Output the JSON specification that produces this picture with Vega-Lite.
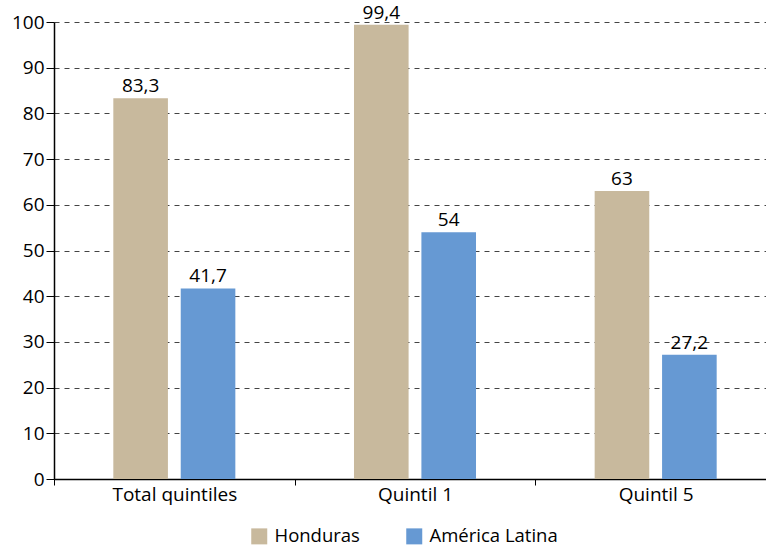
{
  "$schema": "https://vega.github.io/schema/vega-lite/v6.json",
  "width": 722,
  "height": 457,
  "autosize": {"type": "none"},
  "padding": {"left": 54, "top": 22, "right": 0, "bottom": 71},
  "config": {
    "font": "Open Sans",
    "view": {"stroke": null},
    "locale": {"number": {"decimal": ",", "thousands": ".", "grouping": [3], "currency": ["", ""]}}
  },
  "data": {
    "values": [
      {"grupo": "Total quintiles", "pais": "Honduras", "valor": 83.3},
      {"grupo": "Total quintiles", "pais": "América Latina", "valor": 41.7},
      {"grupo": "Quintil 1", "pais": "Honduras", "valor": 99.4},
      {"grupo": "Quintil 1", "pais": "América Latina", "valor": 54},
      {"grupo": "Quintil 5", "pais": "Honduras", "valor": 63},
      {"grupo": "Quintil 5", "pais": "América Latina", "valor": 27.2}
    ]
  },
  "encoding": {
    "x": {
      "field": "grupo", "type": "nominal", "sort": ["Total quintiles", "Quintil 1", "Quintil 5"],
      "scale": {"paddingInner": 0, "paddingOuter": 0},
      "axis": {
        "title": null, "labelAngle": 0, "labelFontSize": 19, "labelColor": "#000", "labelPadding": 0,
        "domainColor": "#000", "domainWidth": 1.5, "tickColor": "#000", "tickBand": "extent", "tickSize": 6, "grid": false
      }
    },
    "xOffset": {
      "field": "pais", "type": "nominal", "sort": ["Honduras", "América Latina"],
      "scale": {"paddingInner": 0.19, "paddingOuter": 0.88}
    },
    "y": {
      "field": "valor", "type": "quantitative",
      "scale": {"domain": [0, 100]},
      "axis": {
        "title": null, "values": [0, 10, 20, 30, 40, 50, 60, 70, 80, 90, 100],
        "labelFontSize": 19, "labelColor": "#000", "labelPadding": 2,
        "domainColor": "#000", "domainWidth": 1.5, "tickColor": "#000", "tickSize": 8,
        "grid": true, "gridColor": "#444", "gridDash": [5, 5], "gridWidth": 1
      }
    }
  },
  "layer": [
    {
      "mark": {"type": "bar"},
      "encoding": {
        "color": {
          "field": "pais", "type": "nominal",
          "scale": {"domain": ["Honduras", "América Latina"], "range": ["#C8B99D", "#6699D3"]},
          "legend": {
            "title": null, "orient": "none", "legendX": 196, "legendY": 505, "direction": "horizontal",
            "symbolType": "square", "symbolSize": 256, "symbolStrokeWidth": 0,
            "labelFontSize": 18.5, "labelColor": "#000", "columnPadding": 45, "labelOffset": 6
          }
        }
      }
    },
    {
      "mark": {"type": "text", "dy": -12, "fontSize": 19, "color": "#000"},
      "encoding": {
        "text": {"field": "valor", "type": "quantitative", "format": ".1~f"}
      }
    }
  ]
}
